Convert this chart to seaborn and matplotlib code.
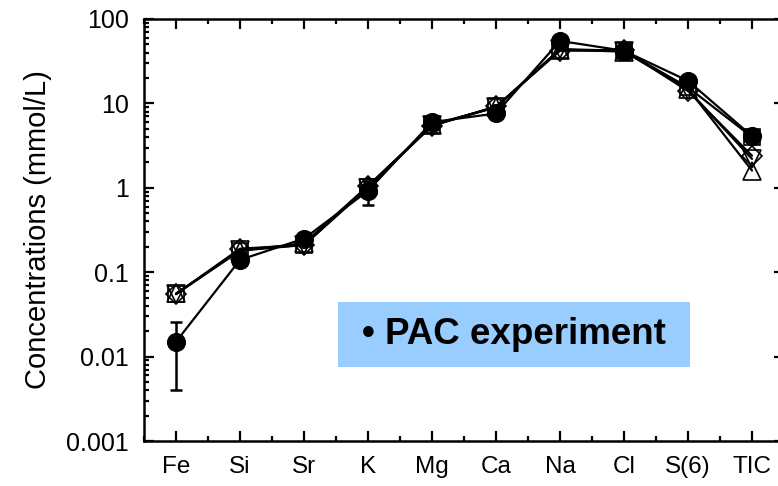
import numpy as np
import pandas as pd
import matplotlib
matplotlib.use("Agg")
import matplotlib.pyplot as plt
from matplotlib.patches import Rectangle
from matplotlib.ticker import LogLocator, NullFormatter, FixedLocator
import seaborn as sns

# Elements analysed
categories = ["Fe", "Si", "Sr", "K", "Mg", "Ca", "Na", "Cl", "S(6)", "TIC"]

# Concentrations (mmol/L) per sample series
conc_circle = [0.015, 0.14, 0.25, 0.92, 6.0, 7.6, 55.0, 42.0, 18.5, 4.1]
err_circle = [0.011, 0.0, 0.0, 0.30, 0.0, 0.0, 0.0, 8.0, 0.0, 0.0]
conc_square = [0.055, 0.18, 0.21, 1.02, 5.6, 9.0, 43.0, 42.0, 15.5, 4.0]
conc_diamond = [0.055, 0.19, 0.21, 1.05, 5.4, 9.2, 42.0, 43.0, 14.0, 2.4]
conc_tri_down = [0.055, 0.185, 0.21, 1.0, 5.5, 9.0, 44.0, 42.0, 14.5, 2.2]
conc_tri_up = [0.056, 0.18, 0.22, 1.05, 5.5, 9.1, 43.5, 41.0, 15.0, 1.6]

y_ticks = [0.001, 0.01, 0.1, 1, 10, 100]
y_tick_labels = ["0.001", "0.01", "0.1", "1", "10", "100"]
box_text = "\u2022 PAC experiment"

sns.set_style("ticks")
plt.rcParams["font.family"] = ["Liberation Sans", "DejaVu Sans"]
plt.rcParams.update({"text.color": "black", "axes.labelcolor": "black",
                     "xtick.color": "black", "ytick.color": "black"})

W, H = 778, 486
fig = plt.figure(figsize=(W / 100, H / 100), dpi=100)
ax = fig.add_axes([144 / W, 1 - 441 / H, (784 - 144) / W, (441 - 19) / H])

pos = np.arange(len(categories))

open_series = [
    ("square", conc_square, "s"),
    ("diamond", conc_diamond, "D"),
    ("tri_down", conc_tri_down, "v"),
    ("tri_up", conc_tri_up, "^"),
]
msize = {"s": 12, "D": 10.5, "v": 13.5, "^": 13.5}
for name, vals, mk in open_series:
    df = pd.DataFrame({"pos": pos, "conc": vals})
    sns.lineplot(data=df, x="pos", y="conc", ax=ax, color="black", lw=1.6,
                 marker=mk, markersize=msize[mk], markerfacecolor="none",
                 markeredgecolor="black", markeredgewidth=1.2, zorder=3)

df_c = pd.DataFrame({"pos": pos, "conc": conc_circle, "err": err_circle})
ax.errorbar(df_c["pos"], df_c["conc"], yerr=df_c["err"], fmt="none",
            ecolor="black", elinewidth=1.8, capsize=4.5, capthick=1.8, zorder=4)
sns.lineplot(data=df_c, x="pos", y="conc", ax=ax, color="black", lw=1.6,
             marker="o", markersize=13, markerfacecolor="black",
             markeredgecolor="black", zorder=5)

ax.set_yscale("log")
ax.set_ylim(0.001, 100)
ax.set_xlim(-0.5, len(categories) - 0.5)
ax.set_yticks(y_ticks)
ax.set_yticklabels(y_tick_labels)
ax.yaxis.set_minor_locator(LogLocator(base=10, subs=np.arange(2, 10)))
ax.yaxis.set_minor_formatter(NullFormatter())
ax.set_xticks(pos)
ax.set_xticklabels(categories)
ax.xaxis.set_minor_locator(FixedLocator(np.arange(-0.5, len(categories), 1.0)))

ax.set_xlabel("")
ax.set_ylabel("Concentrations (mmol/L)", fontsize=21, labelpad=10)

ax.tick_params(which="both", direction="in", top=True, right=True, width=1.6,
               color="black", labelcolor="black")
ax.tick_params(which="major", length=7)
ax.tick_params(axis="y", which="major", pad=11, labelsize=18)
ax.tick_params(axis="x", which="major", pad=11, labelsize=17.5)
ax.tick_params(which="minor", length=3.5)
for sp in ax.spines.values():
    sp.set_linewidth(1.8)
    sp.set_color("black")

# Label box
fig.patches.append(Rectangle((338 / W, 1 - 367 / H), 352 / W, 65 / H,
                             transform=fig.transFigure, facecolor="#99ccff",
                             edgecolor="none", zorder=6))
fig.text(514 / W, 1 - 334 / H, box_text, ha="center", va="center",
         fontsize=26.5, fontweight="bold", color="black", zorder=7)

fig.savefig("out.png", dpi=100)
